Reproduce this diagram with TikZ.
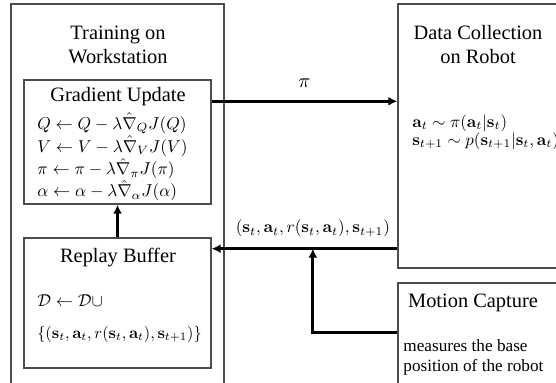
\documentclass[tikz,border=0pt]{standalone}
\usepackage[no-math]{fontspec}
\setmainfont{Liberation Serif}
\usepackage{amsmath,amssymb}
\usetikzlibrary{arrows.meta}

\begin{document}
\begin{tikzpicture}[x=0.5pt, y=-0.5pt,
  box/.style={draw=black!70, line width=0.7pt, inner sep=0pt},
  title/.style={font=\fontsize{10.2}{12}\selectfont, align=center},
  body/.style={font=\fontsize{8.6}{10}\selectfont, align=left, anchor=west, inner sep=0pt},
  eqs/.style={font=\fontsize{10}{11.4}\selectfont, align=left, anchor=west, inner sep=0pt, scale=0.86},
  flow/.style={-{Latex[length=4.5pt,width=4.5pt]}, line width=1.4pt}]
  \useasboundingbox (0,0) rectangle (556,383);
  \clip (0,0) rectangle (556,383);

  % boxes
  \node[box, minimum width=106.5pt, minimum height=198pt] (train) at (117.5,202) {};
  \node[box, minimum width=93.5pt, minimum height=62pt] (grad) at (117.5,142) {};
  \node[box, minimum width=93.5pt, minimum height=65pt] (buffer) at (117.5,303) {};
  \node[box, minimum width=101pt, minimum height=132pt] (collect) at (499,136) {};
  \node[box, minimum width=101pt, minimum height=68.5pt] (mocap) at (499,351.5) {};

  % titles
  \node[title] (traintitle) at (118,45) {Training on\\Workstation};
  \node[title] (gradtitle) at (118,97) {Gradient Update};
  \node[title] (buftitle) at (118,258) {Replay Buffer};
  \node[title] (collecttitle) at (478,45) {Data Collection\\on Robot};
  \node[title] (mocaptitle) at (473,303) {Motion Capture};

  % contents
  \node[eqs] (gradeqs) at (37,157) {$Q \leftarrow Q - \lambda\hat{\nabla}_Q J(Q)$\\
    $V \leftarrow V - \lambda\hat{\nabla}_V J(V)$\\
    $\pi \leftarrow \pi - \lambda\hat{\nabla}_\pi J(\pi)$\\
    $\alpha \leftarrow \alpha - \lambda\hat{\nabla}_\alpha J(\alpha)$};
  \node[eqs] (bufunion) at (37,301) {$\mathcal{D} \leftarrow \mathcal{D} \cup$};
  \node[eqs, scale=0.95] (bufset) at (37,334) {$\{(\mathbf{s}_t, \mathbf{a}_t, r(\mathbf{s}_t, \mathbf{a}_t), \mathbf{s}_{t+1})\}$};
  \node[eqs, scale=0.98, font=\fontsize{10}{10.7}\selectfont] (collecteqs) at (412,132)
    {$\mathbf{a}_t \sim \pi(\mathbf{a}_t|\mathbf{s}_t)$\\
    $\mathbf{s}_{t+1} \sim p(\mathbf{s}_{t+1}|\mathbf{s}_t, \mathbf{a}_t)$};
  \node[body] (mocaptext) at (403,357) {measures the base\\position of the robot};

  % connectors
  \draw[flow] (buffer.north) -- (grad.south);
  \draw[flow] ([yshift=-11pt]grad.north east) coordinate (piout)
    -- (piout -| collect.west) node[midway, yshift=9pt] {$\pi$};
  \draw[flow] ([yshift=10pt]collect.south west) coordinate (dataout)
    -- (dataout -| buffer.east)
    coordinate[pos=0.455] (merge)
    node[pos=0.455, yshift=10pt, scale=0.85] {$(\mathbf{s}_t, \mathbf{a}_t, r(\mathbf{s}_t, \mathbf{a}_t), \mathbf{s}_{t+1})$};
  \draw[flow] ([yshift=-25pt]mocap.north west) -| (merge);
\end{tikzpicture}
\end{document}
